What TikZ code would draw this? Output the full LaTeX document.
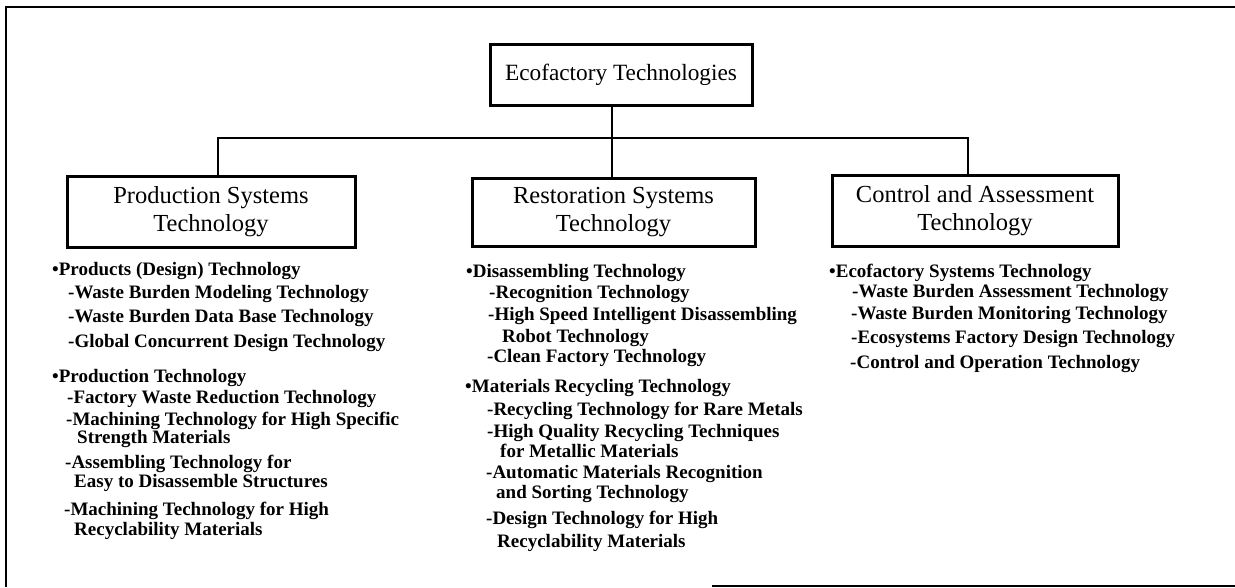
\documentclass[tikz,border=0pt]{standalone}
\usepackage{fontspec}
\setmainfont{Liberation Serif}
\begin{document}
\begin{tikzpicture}[x=1pt,y=-1pt,
  box/.style={draw, line width=3pt, inner sep=0pt, align=center,
    font=\fontsize{24.5}{28}\selectfont},
  headbox/.style={box, execute at begin node={\rule{0pt}{23pt}}},
  link/.style={line width=2.6pt},
  frame/.style={line width=2.6pt},
  lst/.style={anchor=base west, inner sep=0pt,
    font=\bfseries\fontsize{19}{22}\selectfont}]
\useasboundingbox (0,0) rectangle (1235,587);

% outer frame
\draw[frame] (6,587) -- (6,7) -- (1235,7);
\draw[frame] (712,586) -- (1235,586);

% boxes
\node[box, font=\fontsize{23.3}{28}\selectfont,
      minimum width=262pt, minimum height=61pt] (top) at (621,74.5)
  {Ecofactory Technologies};
\node[headbox, minimum width=288pt, minimum height=71pt] (prod) at (211,211.5)
  {Production Systems\\Technology};
\node[headbox, minimum width=283pt, minimum height=68pt] (rest) at (613.5,212)
  {Restoration Systems\\Technology};
\node[headbox, minimum width=286pt, minimum height=71pt] (ctrl) at (975,210.5)
  {Control and Assessment\\Technology};

% tree connectors
\coordinate (hub) at (612,138);
\coordinate (jl) at (218,138);
\coordinate (jr) at (968,138);
\draw[link] (top.south -| hub) -- (rest.north -| hub);
\draw[link] (prod.north -| jl) -- (jl) -- (jr) -- (ctrl.north -| jr);

% production systems list
\node[lst] (p1)  at (52,275)  {\textbullet Products (Design) Technology};
\node[lst] (p2)  at (68,298)  {-Waste Burden Modeling Technology};
\node[lst] (p3)  at (68,322)  {-Waste Burden Data Base Technology};
\node[lst] (p4)  at (68,347)  {-Global Concurrent Design Technology};
\node[lst] (p5)  at (52,382)  {\textbullet Production Technology};
\node[lst] (p6)  at (67,403)  {-Factory Waste Reduction Technology};
\node[lst] (p7)  at (66,425)  {-Machining Technology for High Specific};
\node[lst] (p8)  at (77,443)  {Strength Materials};
\node[lst] (p9)  at (65,468)  {-Assembling Technology for};
\node[lst] (p10) at (74,487)  {Easy to Disassemble Structures};
\node[lst] (p11) at (64,515)  {-Machining Technology for High};
\node[lst] (p12) at (74,535)  {Recyclability Materials};

% restoration systems list
\node[lst] (r1)  at (466,277) {\textbullet Disassembling Technology};
\node[lst] (r2)  at (489,298) {-Recognition Technology};
\node[lst] (r3)  at (488,320) {-High Speed Intelligent Disassembling};
\node[lst] (r4)  at (502,342) {Robot Technology};
\node[lst] (r5)  at (487,362) {-Clean Factory Technology};
\node[lst] (r6)  at (465,392) {\textbullet Materials Recycling Technology};
\node[lst] (r7)  at (487,415) {-Recycling Technology for Rare Metals};
\node[lst] (r8)  at (487,437) {-High Quality Recycling Techniques};
\node[lst] (r9)  at (500,457) {for Metallic Materials};
\node[lst] (r10) at (486,478) {-Automatic Materials Recognition};
\node[lst] (r11) at (496,498) {and Sorting Technology};
\node[lst] (r12) at (486,524) {-Design Technology for High};
\node[lst] (r13) at (497,547) {Recyclability Materials};

% control and assessment list
\node[lst] (c1) at (829,277) {\textbullet Ecofactory Systems Technology};
\node[lst] (c2) at (852,297) {-Waste Burden Assessment Technology};
\node[lst] (c3) at (851,319) {-Waste Burden Monitoring Technology};
\node[lst] (c4) at (851,343) {-Ecosystems Factory Design Technology};
\node[lst] (c5) at (850,368) {-Control and Operation Technology};
\end{tikzpicture}
\end{document}
